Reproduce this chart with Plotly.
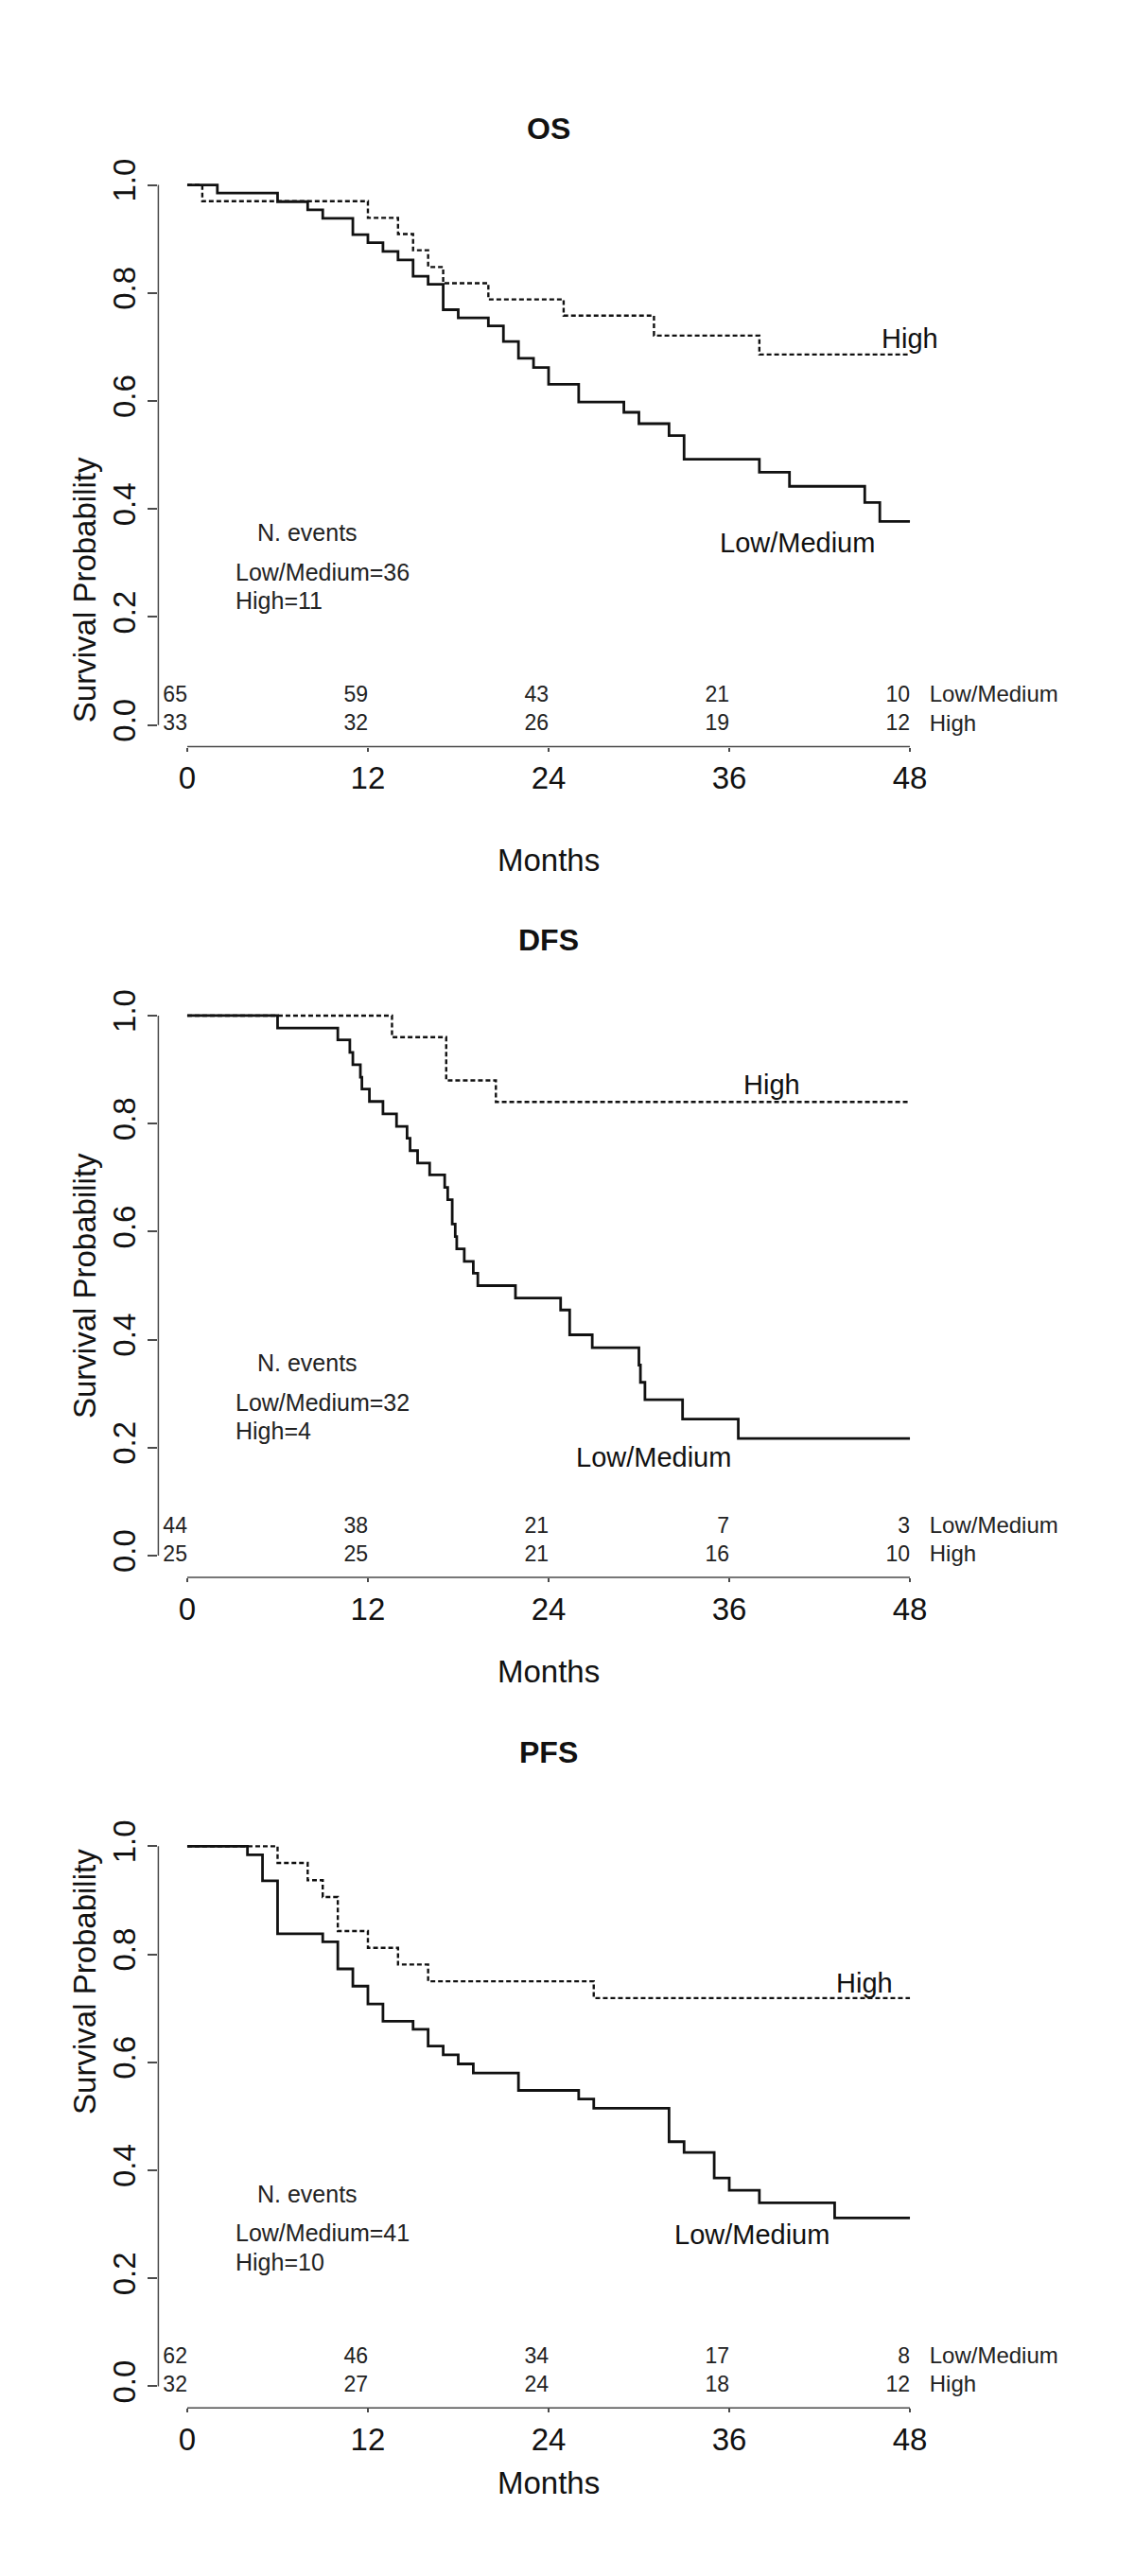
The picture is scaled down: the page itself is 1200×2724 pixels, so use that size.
import plotly.graph_objects as go

# --- data ---
panel_titles = ["OS", "DFS", "PFS"]
group_names = ["Low/Medium", "High"]

os_low_t = [0, 2, 6, 8, 9, 11, 12, 13, 14, 15, 16, 17, 18, 20, 21, 22, 23, 24, 26, 29, 30, 32, 33, 38, 40, 45, 46, 48]
os_low_s = [1.0, 0.985, 0.969, 0.954, 0.938, 0.908, 0.893, 0.877, 0.861, 0.831, 0.816, 0.769, 0.754, 0.739,
            0.710, 0.679, 0.662, 0.631, 0.598, 0.579, 0.558, 0.536, 0.492, 0.468, 0.442, 0.412, 0.377, 0.377]
os_high_t = [0, 1, 12, 14, 15, 16, 17, 20, 25, 31, 38, 48]
os_high_s = [1.0, 0.970, 0.939, 0.909, 0.879, 0.848, 0.818, 0.788, 0.758, 0.721, 0.686, 0.686]

dfs_low_t = [0, 6, 10, 10.8, 11, 11.5, 11.6, 12.1, 13, 13.9, 14.6, 14.8, 15.3, 16.1, 17.1, 17.3, 17.6, 17.8,
             17.9, 18.4, 19.0, 19.3, 21.8, 24.8, 25.4, 26.9, 30.0, 30.1, 30.4, 32.9, 36.6, 48]
dfs_low_s = [1.0, 0.977, 0.955, 0.932, 0.909, 0.886, 0.864, 0.841, 0.818, 0.795, 0.773, 0.750, 0.727, 0.705,
             0.682, 0.659, 0.614, 0.591, 0.568, 0.545, 0.523, 0.500, 0.477, 0.455, 0.409, 0.385, 0.353, 0.321,
             0.289, 0.253, 0.217, 0.217]
dfs_high_t = [0, 13.6, 17.2, 20.5, 48]
dfs_high_s = [1.0, 0.96, 0.88, 0.84, 0.84]

pfs_low_t = [0, 4, 5, 6, 9, 10, 11, 12, 13, 15, 16, 17, 18, 19, 22, 26, 27, 32, 33, 35, 36, 38, 43, 48]
pfs_low_s = [1.0, 0.984, 0.936, 0.838, 0.823, 0.773, 0.741, 0.708, 0.676, 0.661, 0.630, 0.614, 0.597, 0.580,
             0.548, 0.532, 0.515, 0.453, 0.433, 0.386, 0.363, 0.340, 0.312, 0.312]
pfs_high_t = [0, 6, 8, 9, 10, 12, 14, 16, 27, 48]
pfs_high_s = [1.0, 0.969, 0.937, 0.906, 0.843, 0.812, 0.781, 0.750, 0.719, 0.719]

risk_times = [0, 12, 24, 36, 48]
os_risk_low = [65, 59, 43, 21, 10]
os_risk_high = [33, 32, 26, 19, 12]
dfs_risk_low = [44, 38, 21, 7, 3]
dfs_risk_high = [25, 25, 21, 16, 10]
pfs_risk_low = [62, 46, 34, 17, 8]
pfs_risk_high = [32, 27, 24, 18, 12]

os_events = [36, 11]
dfs_events = [32, 4]
pfs_events = [41, 10]

x_ticks = [0, 12, 24, 36, 48]
y_ticks = [0.0, 0.2, 0.4, 0.6, 0.8, 1.0]

# --- layout helpers (pixels of the 1200 x 2724 page) ---
W, H = 1200, 2724
STEP = 880
FONT = "Liberation Sans, Arial, Helvetica, sans-serif"
INK = "#111111"
AXIS = "#4a4a4a"


def pyf(p):
    return 1 - p / H


def pxf(p):
    return p / W


panels = [
    dict(low=(os_low_t, os_low_s), high=(os_high_t, os_high_s), risk=(os_risk_low, os_risk_high),
         events=os_events, high_lab=(48, 0.716), low_lab=(40.5, 0.338)),
    dict(low=(dfs_low_t, dfs_low_s), high=(dfs_high_t, dfs_high_s), risk=(dfs_risk_low, dfs_risk_high),
         events=dfs_events, high_lab=(38.8, 0.872), low_lab=(31.0, 0.182)),
    dict(low=(pfs_low_t, pfs_low_s), high=(pfs_high_t, pfs_high_s), risk=(pfs_risk_low, pfs_risk_high),
         events=pfs_events, high_lab=(45.0, 0.747), low_lab=(37.5, 0.281)),
]

fig = go.Figure()
annotations = []
shapes = []

for k, p in enumerate(panels):
    off = STEP * k
    sfx = "" if k == 0 else str(k + 1)
    xa, ya = "x" + sfx, "y" + sfx

    # curves
    fig.add_trace(go.Scatter(x=p["low"][0], y=p["low"][1], mode="lines", xaxis=xa, yaxis=ya,
                             line=dict(shape="hv", color=INK, width=2.8), showlegend=False, hoverinfo="skip"))
    fig.add_trace(go.Scatter(x=p["high"][0], y=p["high"][1], mode="lines", xaxis=xa, yaxis=ya,
                             line=dict(shape="hv", color=INK, width=2.4, dash="5px,3px"),
                             showlegend=False, hoverinfo="skip"))

    # numbers at risk, right-aligned at each time point
    for row, yv in zip(p["risk"], [0.053, 0.0]):
        fig.add_trace(go.Scatter(x=risk_times, y=[yv] * len(risk_times), mode="text",
                                 text=[str(v) for v in row], textposition="middle left",
                                 textfont=dict(family=FONT, size=23, color="#222"),
                                 xaxis=xa, yaxis=ya, showlegend=False, hoverinfo="skip", cliponaxis=False))
    fig.add_trace(go.Scatter(x=[49.3, 49.3], y=[0.053, 0.0], mode="text", text=group_names,
                             textposition="middle right", textfont=dict(family=FONT, size=24, color="#222"),
                             xaxis=xa, yaxis=ya, showlegend=False, hoverinfo="skip", cliponaxis=False))

    # axes (R style: lines only over the tick range)
    fig.layout["xaxis" + sfx] = dict(domain=[pxf(159.4), pxf(984.6)], range=[-1.92, 49.92], anchor=ya,
                                     tickvals=x_ticks, ticks="outside", ticklen=4, tickwidth=1.5,
                                     tickcolor=AXIS, showgrid=False, zeroline=False, showline=False,
                                     tickfont=dict(family=FONT, size=33, color=INK))
    fig.layout["yaxis" + sfx] = dict(domain=[pyf(778 + off), pyf(160 + off)], range=[-0.04, 1.04],
                                     anchor=xa, tickvals=y_ticks, ticktext=["%.1f" % v for v in y_ticks],
                                     tickangle=-90, ticks="outside", ticklen=10, tickwidth=1.5,
                                     tickcolor=AXIS, showgrid=False, zeroline=False, showline=False,
                                     tickfont=dict(family=FONT, size=33, color=INK))
    shapes.append(dict(type="line", xref=xa + " domain", yref=ya, x0=0, x1=0, y0=0, y1=1,
                       line=dict(color=AXIS, width=1.5)))
    shapes.append(dict(type="line", xref=xa, yref=ya + " domain", x0=0, x1=48, y0=0, y1=0,
                       line=dict(color=AXIS, width=1.5)))

    # titles
    annotations.append(dict(text="<b>%s</b>" % panel_titles[k], xref="paper", yref="paper",
                            x=pxf(572), y=pyf(103 + off), showarrow=False,
                            font=dict(family=FONT, size=32, color=INK)))
    annotations.append(dict(text="Months", xref="paper", yref="paper", x=pxf(572), y=pyf(878 + off),
                            showarrow=False, font=dict(family=FONT, size=33, color=INK)))
    annotations.append(dict(text="Survival Probability", xref="paper", yref="paper", x=pxf(61),
                            y=pyf(469 + off), textangle=-90, showarrow=False,
                            font=dict(family=FONT, size=33, color=INK)))

    # curve labels
    annotations.append(dict(text="High", xref=xa, yref=ya, x=p["high_lab"][0], y=p["high_lab"][1],
                            showarrow=False, font=dict(family=FONT, size=29, color=INK)))
    annotations.append(dict(text="Low/Medium", xref=xa, yref=ya, x=p["low_lab"][0], y=p["low_lab"][1],
                            showarrow=False, font=dict(family=FONT, size=29, color=INK)))

    # events legend
    annotations.append(dict(text="N. events", xref=xa, yref=ya, x=8.0, y=0.357, showarrow=False,
                            font=dict(family=FONT, size=25, color="#222")))
    for name, n, yv in zip(group_names, p["events"], [0.284, 0.231]):
        annotations.append(dict(text="%s=%d" % (name, n), xref=xa, yref=ya, x=3.1, y=yv,
                                xanchor="left", showarrow=False,
                                font=dict(family=FONT, size=25, color="#222")))

fig.update_layout(width=W, height=H, margin=dict(l=0, r=0, t=0, b=0),
                  paper_bgcolor="white", plot_bgcolor="white",
                  annotations=annotations, shapes=shapes)

fig.write_html("out.html")
